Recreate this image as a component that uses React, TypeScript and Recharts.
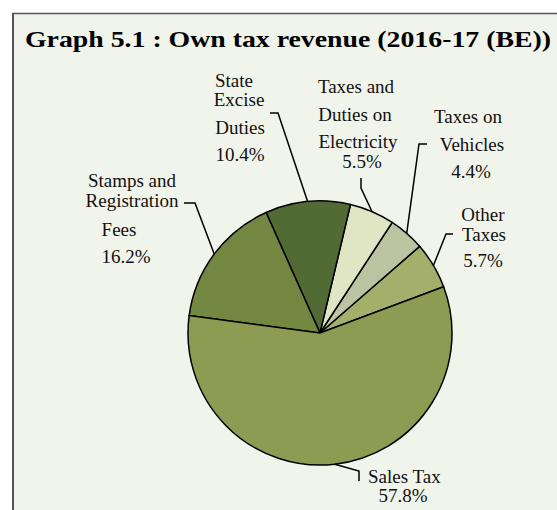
import { PieChart, Pie, Cell } from 'recharts'

// Own tax revenue shares, 2016-17 (BE), counter-clockwise from "Other Taxes"
const categories = [
  'Other Taxes',
  'Taxes on Vehicles',
  'Taxes and Duties on Electricity',
  'State Excise Duties',
  'Stamps and Registration Fees',
  'Sales Tax',
]
const shares = [5.7, 4.4, 5.5, 10.4, 16.2, 57.8]
const labelLines = [
  ['Other', 'Taxes'],
  ['Taxes on', 'Vehicles'],
  ['Taxes and', 'Duties on', 'Electricity'],
  ['State', 'Excise', 'Duties'],
  ['Stamps and', 'Registration', 'Fees'],
  ['Sales Tax'],
]

const colors = ['#a3af6b', '#bcc3a0', '#e0e5c3', '#526b35', '#72873f', '#8d9b53']

// hand placed callouts: leader elbow/end points and text lines [x, baseline, anchor]
const calloutLayout: { path: number[][]; text: [number, number, string][] }[] = [
  { path: [[446, 234], [453, 234]], text: [[483, 221, 'middle'], [484, 241, 'middle'], [483, 267, 'middle']] },
  { path: [[419, 144], [427, 144]], text: [[468, 123, 'middle'], [472, 151, 'middle'], [471, 178, 'middle']] },
  { path: [[361, 188], [361, 178]], text: [[356, 93, 'middle'], [355, 121, 'middle'], [358, 148, 'middle'], [362, 168, 'middle']] },
  { path: [[278, 113], [270, 113]], text: [[234, 87, 'middle'], [239, 106, 'middle'], [240, 134, 'middle'], [240, 161, 'middle']] },
  { path: [[195, 203], [184, 203]], text: [[132, 187, 'middle'], [132, 207, 'middle'], [119, 236, 'middle'], [126, 263, 'middle']] },
  { path: [[359, 471], [359, 481]], text: [[368, 483, 'start'], [403, 502, 'middle']] },
]

const data = categories.map((name, i) => ({ name, value: shares[i] }))

const RAD = Math.PI / 180

function renderCallout(props: any) {
  const { cx, cy, midAngle, outerRadius, index } = props
  const x0 = cx + outerRadius * Math.cos(-midAngle * RAD)
  const y0 = cy + outerRadius * Math.sin(-midAngle * RAD)
  const layout = calloutLayout[index]
  const pts = [[x0, y0], ...layout.path]
  const d = pts.map((p, i) => `${i === 0 ? 'M' : 'L'}${p[0]},${p[1]}`).join(' ')
  const lines = [...labelLines[index], `${shares[index].toFixed(1)}%`]
  return (
    <g key={`callout-${index}`}>
      <path d={d} stroke="#000" strokeWidth={1.5} fill="none" />
      {lines.map((t, j) => {
        const [tx, ty, anchor] = layout.text[j]
        return (
          <text
            key={j}
            x={tx}
            y={ty}
            textAnchor={anchor as any}
            fontFamily="'Liberation Serif', 'Times New Roman', serif"
            fontSize={19}
            fill="#111"
          >
            {t}
          </text>
        )
      })}
    </g>
  )
}

export default function App() {
  return (
    <div style={{ position: 'absolute', left: 0, top: 0, width: 557, height: 510, background: '#fff' }}>
      <svg width={557} height={510} style={{ position: 'absolute', left: 0, top: 0 }}>
        <rect x={12} y={13} width={545} height={497} fill="#f1f4ea" />
        <line x1={12} y1={13.5} x2={557} y2={13.5} stroke="#555" strokeWidth={1.5} />
        <line x1={13} y1={13} x2={13} y2={510} stroke="#555" strokeWidth={2} />
        <text
          x={25}
          y={47}
          fontFamily="'Liberation Serif', 'Times New Roman', serif"
          fontWeight="bold"
          fontSize={23}
          textLength={526}
          lengthAdjust="spacingAndGlyphs"
          fill="#000"
        >
          Graph 5.1 : Own tax revenue (2016-17 (BE))
        </text>
      </svg>
      <div style={{ position: 'absolute', left: 0, top: 0 }}>
        <PieChart width={557} height={510} margin={{ top: 0, right: 0, bottom: 0, left: 0 }}>
          <Pie
            data={data}
            dataKey="value"
            nameKey="name"
            cx={320}
            cy={333}
            outerRadius={132}
            startAngle={20.5}
            endAngle={380.5}
            stroke="#000"
            strokeWidth={1.5}
            label={renderCallout}
            labelLine={false}
            isAnimationActive={false}
          >
            {data.map((d, i) => (
              <Cell key={d.name} fill={colors[i]} />
            ))}
          </Pie>
        </PieChart>
      </div>
    </div>
  )
}
